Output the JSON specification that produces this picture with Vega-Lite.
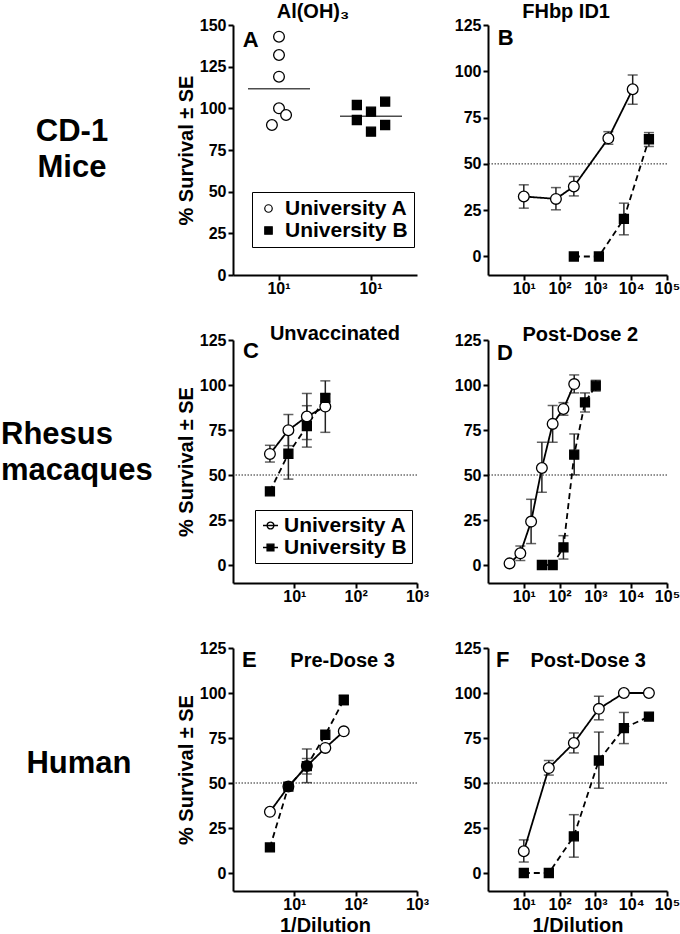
{
  "$schema": "https://vega.github.io/schema/vega-lite/v6.json",
  "padding": {"left": 0, "top": 1, "right": 0, "bottom": 0},
  "background": "white",
  "config": {
    "font": "Liberation Sans",
    "view": {"stroke": null},
    "axis": {"domainColor": "black", "domainWidth": 2, "tickColor": "black", "tickWidth": 2, "tickSize": 5, "labelFont": "Liberation Sans", "labelFontSize": 16, "labelFontWeight": "bold", "labelColor": "black", "titleFont": "Liberation Sans", "titleFontSize": 20, "titleFontWeight": "bold", "titleColor": "black", "grid": false, "labelFlush": false, "labelOverlap": false},
    "axisY": {"labelPadding": 2, "titlePadding": 3},
    "axisX": {"labelPadding": 0, "titlePadding": 3},
    "text": {"font": "Liberation Sans", "color": "black"}
  },
  "datasets": {
    "A": [
      {"u": "University A", "col": 0, "v": 143},
      {"u": "University A", "col": 0, "v": 132},
      {"u": "University A", "col": 0, "v": 119},
      {"u": "University A", "col": 0, "v": 100},
      {"u": "University A", "col": 1, "v": 96},
      {"u": "University A", "col": -1, "v": 90},
      {"u": "University B", "col": -2, "v": 102},
      {"u": "University B", "col": 2, "v": 104},
      {"u": "University B", "col": 0, "v": 98},
      {"u": "University B", "col": -2, "v": 93},
      {"u": "University B", "col": 2, "v": 90},
      {"u": "University B", "col": 0, "v": 86}
    ],
    "Amean": [
      {"u": "University A", "m": 111.8},
      {"u": "University B", "m": 95.2}
    ],
    "B": [
      {"u": "University A", "x": 10, "y": 32.4, "lo": 26.1, "hi": 38.7},
      {"u": "University A", "x": 79, "y": 31.1, "lo": 25.2, "hi": 37.2},
      {"u": "University A", "x": 250, "y": 37.8, "lo": 32.7, "hi": 43.2},
      {"u": "University A", "x": 2300, "y": 63.8, "lo": 60.6, "hi": 67.4},
      {"u": "University A", "x": 11000, "y": 90.3, "lo": 82.2, "hi": 98},
      {"u": "University B", "x": 250, "y": 0},
      {"u": "University B", "x": 1250, "y": 0},
      {"u": "University B", "x": 6250, "y": 20.3, "lo": 11.7, "hi": 28.8},
      {"u": "University B", "x": 31250, "y": 63.3, "lo": 59.4, "hi": 66.9}
    ],
    "C": [
      {"u": "University A", "x": 4, "y": 61.7, "lo": 57.2, "hi": 66.5},
      {"u": "University A", "x": 8, "y": 74.9, "lo": 66.3, "hi": 83.6},
      {"u": "University A", "x": 16, "y": 82.5, "lo": 69.7, "hi": 95.3},
      {"u": "University A", "x": 32, "y": 88, "lo": 73.7, "hi": 102.3},
      {"u": "University B", "x": 4, "y": 40.9},
      {"u": "University B", "x": 8, "y": 61.8, "lo": 47.7, "hi": 75.9},
      {"u": "University B", "x": 16, "y": 77.1, "lo": 65.5, "hi": 88.5},
      {"u": "University B", "x": 32, "y": 92.9, "lo": 90.9, "hi": 94.9}
    ],
    "D": [
      {"u": "University A", "x": 4, "y": 0.9},
      {"u": "University A", "x": 8, "y": 6.5, "lo": 2.5, "hi": 10.5},
      {"u": "University A", "x": 16, "y": 24.1, "lo": 11.9, "hi": 36.5},
      {"u": "University A", "x": 32, "y": 53.9, "lo": 40.4, "hi": 68.2},
      {"u": "University A", "x": 64, "y": 78.4, "lo": 68.2, "hi": 88.6},
      {"u": "University A", "x": 128, "y": 86.7, "lo": 83.2, "hi": 90.2},
      {"u": "University A", "x": 256, "y": 100.5, "lo": 95.6, "hi": 105.6},
      {"u": "University B", "x": 32, "y": 0},
      {"u": "University B", "x": 64, "y": 0},
      {"u": "University B", "x": 128, "y": 9.8, "lo": 3.3, "hi": 16.3},
      {"u": "University B", "x": 256, "y": 61.3, "lo": 50.1, "hi": 72.8},
      {"u": "University B", "x": 512, "y": 90.3, "lo": 85, "hi": 95.6},
      {"u": "University B", "x": 1024, "y": 99.6, "lo": 96.6, "hi": 102.6}
    ],
    "E": [
      {"u": "University A", "x": 4, "y": 34},
      {"u": "University A", "x": 8, "y": 48},
      {"u": "University A", "x": 16, "y": 59.4, "lo": 55, "hi": 63.6},
      {"u": "University A", "x": 32, "y": 69.5},
      {"u": "University A", "x": 64, "y": 78.7},
      {"u": "University B", "x": 4, "y": 14.2},
      {"u": "University B", "x": 8, "y": 48},
      {"u": "University B", "x": 16, "y": 59.4, "lo": 50.2, "hi": 68.9},
      {"u": "University B", "x": 32, "y": 76.8},
      {"u": "University B", "x": 64, "y": 96.1, "lo": 93.5, "hi": 98.8}
    ],
    "F": [
      {"u": "University A", "x": 10, "y": 12.1, "lo": 6.1, "hi": 18.4},
      {"u": "University A", "x": 50, "y": 58.3, "lo": 54.4, "hi": 62.5},
      {"u": "University A", "x": 250, "y": 72.2, "lo": 66.7, "hi": 77.8},
      {"u": "University A", "x": 1250, "y": 91.2, "lo": 85.1, "hi": 98.2},
      {"u": "University A", "x": 6250, "y": 100},
      {"u": "University A", "x": 31250, "y": 100},
      {"u": "University B", "x": 10, "y": 0},
      {"u": "University B", "x": 50, "y": 0},
      {"u": "University B", "x": 250, "y": 20.4, "lo": 8.8, "hi": 32.4},
      {"u": "University B", "x": 1250, "y": 62.5, "lo": 47.1, "hi": 78.3},
      {"u": "University B", "x": 6250, "y": 80.5, "lo": 71.9, "hi": 89.2},
      {"u": "University B", "x": 31250, "y": 86.9}
    ]
  },
  "columns": 3,
  "spacing": {"row": 65, "column": 71},
  "bounds": "flush",
  "align": "each",
  "resolve": {
    "scale": {"shape": "independent", "fill": "independent", "size": "independent", "strokeDash": "independent", "stroke": "independent"},
    "legend": {"shape": "independent", "fill": "independent", "size": "independent", "strokeDash": "independent", "stroke": "independent"}
  },
  "concat": [
    {
      "width": 162, "height": 250,
      "data": {"values": [{"label": "CD-1\nMice"}]},
      "mark": {"type": "text", "fontSize": 31, "fontWeight": "bold", "lineBreak": "\n", "lineHeight": 36, "align": "center", "baseline": "middle", "dx": -9, "dy": -18},
      "encoding": {"text": {"field": "label", "type": "nominal"}}
    },
    {
      "width": 184, "height": 250,
      "resolve": {"scale": {"shape": "independent", "fill": "independent", "stroke": "independent"}, "legend": {"shape": "independent", "fill": "independent", "stroke": "independent"}},
      "layer": [
        {
          "data": {"name": "Amean"},
          "mark": {"type": "tick", "orient": "horizontal", "size": 62, "thickness": 1.5, "color": "black"},
          "encoding": {
            "x": {"field": "u", "type": "nominal", "title": null, "scale": {"type": "band", "paddingInner": 0, "paddingOuter": 0}, "axis": {"labelExpr": "'10¹'", "labelAngle": 0}},
            "y": {"field": "m", "type": "quantitative", "title": "% Survival ± SE", "scale": {"domain": [0, 150], "nice": false, "zero": false}, "axis": {"values": [0, 25, 50, 75, 100, 125, 150]}}
          }
        },
        {
          "data": {"name": "A"},
          "mark": {"type": "point", "filled": true, "stroke": "black", "strokeWidth": 1.3, "opacity": 1},
          "encoding": {
            "x": {"field": "u", "type": "nominal", "title": null},
            "xOffset": {"field": "col", "type": "quantitative", "scale": {"domain": [-6.5, 6.5]}},
            "y": {"field": "v", "type": "quantitative", "title": "% Survival ± SE"},
            "shape": {"field": "u", "type": "nominal", "scale": {"domain": ["University A", "University B"], "range": ["circle", "square"]}, "legend": null},
            "fill": {"field": "u", "type": "nominal", "scale": {"domain": ["University A", "University B"], "range": ["white", "black"]}, "legend": null},
            "size": {"field": "u", "type": "ordinal", "scale": {"domain": ["University A", "University B"], "range": [115, 81]}, "legend": null}
          }
        },
        {
          "data": {"name": "A"},
          "mark": {"type": "point", "filled": true, "opacity": 0},
          "encoding": {
            "x": {"field": "u", "type": "nominal", "title": null},
            "xOffset": {"field": "col", "type": "quantitative"},
            "y": {"field": "v", "type": "quantitative", "title": "% Survival ± SE"},
            "shape": {"field": "u", "type": "nominal", "scale": {"domain": ["University A", "University B"], "range": ["circle", "square"]},
              "legend": {"title": null, "orient": "none", "legendX": 19, "legendY": 167, "strokeColor": "black", "fillColor": "white", "padding": 6, "labelFontSize": 21, "labelFontWeight": "bold", "labelColor": "black", "labelFont": "Liberation Sans", "symbolSize": 56, "symbolStrokeWidth": 1.2, "labelOffset": 6, "rowPadding": 0, "cornerRadius": 0, "symbolOpacity": 1}},
            "fill": {"field": "u", "type": "nominal", "scale": {"domain": ["University A", "University B"], "range": ["white", "black"]},
              "legend": {"title": null, "orient": "none", "legendX": 19, "legendY": 167, "strokeColor": "black", "fillColor": "white", "padding": 6, "labelFontSize": 21, "labelFontWeight": "bold", "labelColor": "black", "labelFont": "Liberation Sans", "symbolSize": 56, "symbolStrokeWidth": 1.2, "labelOffset": 6, "rowPadding": 0, "cornerRadius": 0, "symbolOpacity": 1}},
            "stroke": {"field": "u", "type": "nominal", "scale": {"domain": ["University A", "University B"], "range": ["black", "black"]},
              "legend": {"title": null, "orient": "none", "legendX": 19, "legendY": 167, "strokeColor": "black", "fillColor": "white", "padding": 6, "labelFontSize": 21, "labelFontWeight": "bold", "labelColor": "black", "labelFont": "Liberation Sans", "symbolSize": 56, "symbolStrokeWidth": 1.2, "labelOffset": 6, "rowPadding": 0, "cornerRadius": 0, "symbolOpacity": 1}}
          }
        },
        {
          "data": {"values": [{"t": "A"}]},
          "mark": {"type": "text", "fontSize": 22, "fontWeight": "bold", "align": "center", "baseline": "alphabetic"},
          "encoding": {
            "x": {"datum": "University A", "type": "nominal"},
            "xOffset": {"datum": -4, "type": "quantitative"},
            "y": {"datum": 137, "type": "quantitative"},
            "text": {"field": "t", "type": "nominal"}
          }
        },
        {
          "data": {"values": [{"t": "Al(OH)₃"}]},
          "mark": {"type": "text", "fontSize": 20, "fontWeight": "bold", "align": "center", "baseline": "alphabetic"},
          "encoding": {
            "x": {"datum": "University A", "type": "nominal"},
            "xOffset": {"datum": 4.8, "type": "quantitative"},
            "y": {"datum": 154.2, "type": "quantitative"},
            "text": {"field": "t", "type": "nominal"}
          }
        }
      ]
    },
    {
      "width": 179, "height": 250,
      "layer": [
        {"data": {"values": [{"ref": 50}]},
         "mark": {"type": "rule", "strokeDash": [1.5, 1.5], "color": "#222", "strokeWidth": 1},
         "encoding": {"y": {"field": "ref", "type": "quantitative", "title": null}}},
        {"data": {"name": "B"},
         "mark": {"type": "rule", "color": "#222", "strokeWidth": 1.5},
         "encoding": {"x": {"field": "x", "type": "quantitative", "title": null, "scale": {"type": "log"}}, "y": {"field": "lo", "type": "quantitative", "title": null}, "y2": {"field": "hi"}}},
        {"data": {"name": "B"},
         "mark": {"type": "tick", "orient": "horizontal", "size": 10, "thickness": 1.5, "color": "#222"},
         "encoding": {"x": {"field": "x", "type": "quantitative", "title": null, "scale": {"type": "log"}}, "y": {"field": "lo", "type": "quantitative", "title": null}}},
        {"data": {"name": "B"},
         "mark": {"type": "tick", "orient": "horizontal", "size": 10, "thickness": 1.5, "color": "#222"},
         "encoding": {"x": {"field": "x", "type": "quantitative", "title": null, "scale": {"type": "log"}}, "y": {"field": "hi", "type": "quantitative", "title": null}}},
        {"data": {"name": "B"},
         "mark": {"type": "line", "color": "black", "strokeWidth": 1.8},
         "encoding": {
           "x": {"field": "x", "type": "quantitative", "title": null, "scale": {"type": "log", "domain": [1, 100000], "nice": false}, "axis": {"values": [10, 100, 1000, 10000, 100000], "labelExpr": "'10' + ['⁰','¹','²','³','⁴','⁵'][round(log(datum.value)/LN10)]"}},
           "y": {"field": "y", "type": "quantitative", "title": null, "scale": {"domain": [-10, 125], "nice": false, "zero": false}, "axis": {"values": [0, 25, 50, 75, 100, 125]}},
           "strokeDash": {"field": "u", "type": "nominal", "scale": {"domain": ["University A", "University B"], "range": [[1, 0], [6, 4]]}, "legend": null}
         }},
        {"data": {"name": "B"},
         "mark": {"type": "point", "filled": true, "stroke": "black", "strokeWidth": 1.3, "opacity": 1},
         "encoding": {
           "x": {"field": "x", "type": "quantitative", "title": null, "scale": {"type": "log"}},
           "y": {"field": "y", "type": "quantitative", "title": null},
           "shape": {"field": "u", "type": "nominal", "scale": {"domain": ["University A", "University B"], "range": ["circle", "square"]}, "legend": null},
           "fill": {"field": "u", "type": "nominal", "scale": {"domain": ["University A", "University B"], "range": ["white", "black"]}, "legend": null},
           "size": {"field": "u", "type": "ordinal", "scale": {"domain": ["University A", "University B"], "range": [115, 81]}, "legend": null}
         }},
        {"data": {"values": [{"t": "B"}]},
         "mark": {"type": "text", "fontSize": 22, "fontWeight": "bold", "align": "center", "baseline": "alphabetic"},
         "encoding": {"x": {"datum": 3.13, "type": "quantitative"}, "y": {"datum": 114.3, "type": "quantitative"}, "text": {"field": "t", "type": "nominal"}}},
        {"data": {"values": [{"t": "FHbp ID1"}]},
         "mark": {"type": "text", "fontSize": 20, "fontWeight": "bold", "align": "center", "baseline": "alphabetic"},
         "encoding": {"x": {"datum": 152, "type": "quantitative"}, "y": {"datum": 128.7, "type": "quantitative"}, "text": {"field": "t", "type": "nominal"}}}
      ]
    },
    {
      "width": 162, "height": 243,
      "data": {"values": [{"label": "Rhesus\nmacaques"}]},
      "mark": {"type": "text", "fontSize": 31, "fontWeight": "bold", "lineBreak": "\n", "lineHeight": 36, "align": "left", "baseline": "middle", "dx": -80, "dy": -27},
      "encoding": {"text": {"field": "label", "type": "nominal"}}
    },
    {
      "width": 184, "height": 243,
      "resolve": {"scale": {"shape": "independent", "fill": "independent", "stroke": "independent"}, "legend": {"shape": "independent", "fill": "independent", "stroke": "independent"}},
      "layer": [
        {"data": {"values": [{"ref": 50}]},
         "mark": {"type": "rule", "strokeDash": [1.5, 1.5], "color": "#222", "strokeWidth": 1},
         "encoding": {"y": {"field": "ref", "type": "quantitative", "title": "% Survival ± SE"}}},
        {"data": {"name": "C"},
         "mark": {"type": "rule", "color": "#222", "strokeWidth": 1.5},
         "encoding": {"x": {"field": "x", "type": "quantitative", "title": null, "scale": {"type": "log"}}, "y": {"field": "lo", "type": "quantitative", "title": "% Survival ± SE"}, "y2": {"field": "hi"}}},
        {"data": {"name": "C"},
         "mark": {"type": "tick", "orient": "horizontal", "size": 10, "thickness": 1.5, "color": "#222"},
         "encoding": {"x": {"field": "x", "type": "quantitative", "title": null, "scale": {"type": "log"}}, "y": {"field": "lo", "type": "quantitative", "title": "% Survival ± SE"}}},
        {"data": {"name": "C"},
         "mark": {"type": "tick", "orient": "horizontal", "size": 10, "thickness": 1.5, "color": "#222"},
         "encoding": {"x": {"field": "x", "type": "quantitative", "title": null, "scale": {"type": "log"}}, "y": {"field": "hi", "type": "quantitative", "title": "% Survival ± SE"}}},
        {"data": {"name": "C"},
         "mark": {"type": "line", "color": "black", "strokeWidth": 1.8},
         "encoding": {
           "x": {"field": "x", "type": "quantitative", "title": null, "scale": {"type": "log", "domain": [1, 1000], "nice": false}, "axis": {"values": [10, 100, 1000], "labelExpr": "'10' + ['⁰','¹','²','³','⁴','⁵'][round(log(datum.value)/LN10)]"}},
           "y": {"field": "y", "type": "quantitative", "title": "% Survival ± SE", "scale": {"domain": [-10, 125], "nice": false, "zero": false}, "axis": {"values": [0, 25, 50, 75, 100, 125]}},
           "strokeDash": {"field": "u", "type": "nominal", "scale": {"domain": ["University A", "University B"], "range": [[1, 0], [6, 4]]}, "legend": null}
         }},
        {"data": {"name": "C"},
         "mark": {"type": "point", "filled": true, "stroke": "black", "strokeWidth": 1.3, "opacity": 1},
         "encoding": {
           "x": {"field": "x", "type": "quantitative", "title": null, "scale": {"type": "log"}},
           "y": {"field": "y", "type": "quantitative", "title": "% Survival ± SE"},
           "shape": {"field": "u", "type": "nominal", "scale": {"domain": ["University A", "University B"], "range": ["circle", "square"]}, "legend": null},
           "fill": {"field": "u", "type": "nominal", "scale": {"domain": ["University A", "University B"], "range": ["white", "black"]}, "legend": null},
           "size": {"field": "u", "type": "ordinal", "scale": {"domain": ["University A", "University B"], "range": [115, 81]}, "legend": null}
         }},
        {"data": {"name": "C"},
         "mark": {"type": "point", "filled": true, "opacity": 0},
         "encoding": {
           "x": {"field": "x", "type": "quantitative", "title": null, "scale": {"type": "log"}},
           "y": {"field": "y", "type": "quantitative", "title": "% Survival ± SE"},
           "shape": {"field": "u", "type": "nominal", "scale": {"domain": ["University A", "University B"], "range": ["M-1,0L1,0M0.45,0A0.45,0.45,0,1,1,-0.45,0A0.45,0.45,0,1,1,0.45,0Z", "M-1,0L1,0M-0.45,-0.45L0.45,-0.45L0.45,0.45L-0.45,0.45Z"]},
             "legend": {"title": null, "orient": "none", "legendX": 22, "legendY": 170, "strokeColor": "black", "fillColor": "white", "padding": 5, "labelFontSize": 21, "labelFontWeight": "bold", "labelColor": "black", "labelFont": "Liberation Sans", "symbolSize": 225, "symbolStrokeWidth": 1.4, "labelOffset": 3, "rowPadding": 0, "cornerRadius": 0, "symbolOpacity": 1}},
           "fill": {"field": "u", "type": "nominal", "scale": {"domain": ["University A", "University B"], "range": ["white", "black"]},
             "legend": {"title": null, "orient": "none", "legendX": 22, "legendY": 170, "strokeColor": "black", "fillColor": "white", "padding": 5, "labelFontSize": 21, "labelFontWeight": "bold", "labelColor": "black", "labelFont": "Liberation Sans", "symbolSize": 225, "symbolStrokeWidth": 1.4, "labelOffset": 3, "rowPadding": 0, "cornerRadius": 0, "symbolOpacity": 1}},
           "stroke": {"field": "u", "type": "nominal", "scale": {"domain": ["University A", "University B"], "range": ["black", "black"]},
             "legend": {"title": null, "orient": "none", "legendX": 22, "legendY": 170, "strokeColor": "black", "fillColor": "white", "padding": 5, "labelFontSize": 21, "labelFontWeight": "bold", "labelColor": "black", "labelFont": "Liberation Sans", "symbolSize": 225, "symbolStrokeWidth": 1.4, "labelOffset": 3, "rowPadding": 0, "cornerRadius": 0, "symbolOpacity": 1}}
         }},
        {"data": {"values": [{"t": "C"}]},
         "mark": {"type": "text", "fontSize": 22, "fontWeight": "bold", "align": "center", "baseline": "alphabetic"},
         "encoding": {"x": {"datum": 1.97, "type": "quantitative"}, "y": {"datum": 115, "type": "quantitative"}, "text": {"field": "t", "type": "nominal"}}},
        {"data": {"values": [{"t": "Unvaccinated"}]},
         "mark": {"type": "text", "fontSize": 20, "fontWeight": "bold", "align": "left", "baseline": "alphabetic"},
         "encoding": {"x": {"datum": 4.0, "type": "quantitative"}, "y": {"datum": 125, "type": "quantitative"}, "text": {"field": "t", "type": "nominal"}}}
      ]
    },
    {
      "width": 179, "height": 243,
      "layer": [
        {"data": {"values": [{"ref": 50}]},
         "mark": {"type": "rule", "strokeDash": [1.5, 1.5], "color": "#222", "strokeWidth": 1},
         "encoding": {"y": {"field": "ref", "type": "quantitative", "title": null}}},
        {"data": {"name": "D"},
         "mark": {"type": "rule", "color": "#222", "strokeWidth": 1.5},
         "encoding": {"x": {"field": "x", "type": "quantitative", "title": null, "scale": {"type": "log"}}, "y": {"field": "lo", "type": "quantitative", "title": null}, "y2": {"field": "hi"}}},
        {"data": {"name": "D"},
         "mark": {"type": "tick", "orient": "horizontal", "size": 10, "thickness": 1.5, "color": "#222"},
         "encoding": {"x": {"field": "x", "type": "quantitative", "title": null, "scale": {"type": "log"}}, "y": {"field": "lo", "type": "quantitative", "title": null}}},
        {"data": {"name": "D"},
         "mark": {"type": "tick", "orient": "horizontal", "size": 10, "thickness": 1.5, "color": "#222"},
         "encoding": {"x": {"field": "x", "type": "quantitative", "title": null, "scale": {"type": "log"}}, "y": {"field": "hi", "type": "quantitative", "title": null}}},
        {"data": {"name": "D"},
         "mark": {"type": "line", "color": "black", "strokeWidth": 1.8},
         "encoding": {
           "x": {"field": "x", "type": "quantitative", "title": null, "scale": {"type": "log", "domain": [1, 100000], "nice": false}, "axis": {"values": [10, 100, 1000, 10000, 100000], "labelExpr": "'10' + ['⁰','¹','²','³','⁴','⁵'][round(log(datum.value)/LN10)]"}},
           "y": {"field": "y", "type": "quantitative", "title": null, "scale": {"domain": [-10, 125], "nice": false, "zero": false}, "axis": {"values": [0, 25, 50, 75, 100, 125]}},
           "strokeDash": {"field": "u", "type": "nominal", "scale": {"domain": ["University A", "University B"], "range": [[1, 0], [6, 4]]}, "legend": null}
         }},
        {"data": {"name": "D"},
         "mark": {"type": "point", "filled": true, "stroke": "black", "strokeWidth": 1.3, "opacity": 1},
         "encoding": {
           "x": {"field": "x", "type": "quantitative", "title": null, "scale": {"type": "log"}},
           "y": {"field": "y", "type": "quantitative", "title": null},
           "shape": {"field": "u", "type": "nominal", "scale": {"domain": ["University A", "University B"], "range": ["circle", "square"]}, "legend": null},
           "fill": {"field": "u", "type": "nominal", "scale": {"domain": ["University A", "University B"], "range": ["white", "black"]}, "legend": null},
           "size": {"field": "u", "type": "ordinal", "scale": {"domain": ["University A", "University B"], "range": [115, 81]}, "legend": null}
         }},
        {"data": {"values": [{"t": "D"}]},
         "mark": {"type": "text", "fontSize": 22, "fontWeight": "bold", "align": "center", "baseline": "alphabetic"},
         "encoding": {"x": {"datum": 2.95, "type": "quantitative"}, "y": {"datum": 114, "type": "quantitative"}, "text": {"field": "t", "type": "nominal"}}},
        {"data": {"values": [{"t": "Post-Dose 2"}]},
         "mark": {"type": "text", "fontSize": 20, "fontWeight": "bold", "align": "left", "baseline": "alphabetic"},
         "encoding": {"x": {"datum": 9.2, "type": "quantitative"}, "y": {"datum": 124.5, "type": "quantitative"}, "text": {"field": "t", "type": "nominal"}}}
      ]
    },
    {
      "width": 162, "height": 243,
      "data": {"values": [{"label": "Human"}]},
      "mark": {"type": "text", "fontSize": 31, "fontWeight": "bold", "align": "center", "baseline": "middle", "dx": -2, "dy": -6},
      "encoding": {"text": {"field": "label", "type": "nominal"}}
    },
    {
      "width": 184, "height": 243,
      "layer": [
        {"data": {"values": [{"ref": 50}]},
         "mark": {"type": "rule", "strokeDash": [1.5, 1.5], "color": "#222", "strokeWidth": 1},
         "encoding": {"y": {"field": "ref", "type": "quantitative", "title": "% Survival ± SE"}}},
        {"data": {"name": "E"},
         "mark": {"type": "rule", "color": "#222", "strokeWidth": 1.5},
         "encoding": {"x": {"field": "x", "type": "quantitative", "title": "1/Dilution", "scale": {"type": "log"}}, "y": {"field": "lo", "type": "quantitative", "title": "% Survival ± SE"}, "y2": {"field": "hi"}}},
        {"data": {"name": "E"},
         "mark": {"type": "tick", "orient": "horizontal", "size": 10, "thickness": 1.5, "color": "#222"},
         "encoding": {"x": {"field": "x", "type": "quantitative", "title": "1/Dilution", "scale": {"type": "log"}}, "y": {"field": "lo", "type": "quantitative", "title": "% Survival ± SE"}}},
        {"data": {"name": "E"},
         "mark": {"type": "tick", "orient": "horizontal", "size": 10, "thickness": 1.5, "color": "#222"},
         "encoding": {"x": {"field": "x", "type": "quantitative", "title": "1/Dilution", "scale": {"type": "log"}}, "y": {"field": "hi", "type": "quantitative", "title": "% Survival ± SE"}}},
        {"data": {"name": "E"},
         "mark": {"type": "line", "color": "black", "strokeWidth": 1.8},
         "encoding": {
           "x": {"field": "x", "type": "quantitative", "title": "1/Dilution", "scale": {"type": "log", "domain": [1, 1000], "nice": false}, "axis": {"values": [10, 100, 1000], "labelExpr": "'10' + ['⁰','¹','²','³','⁴','⁵'][round(log(datum.value)/LN10)]"}},
           "y": {"field": "y", "type": "quantitative", "title": "% Survival ± SE", "scale": {"domain": [-10, 125], "nice": false, "zero": false}, "axis": {"values": [0, 25, 50, 75, 100, 125]}},
           "strokeDash": {"field": "u", "type": "nominal", "scale": {"domain": ["University A", "University B"], "range": [[1, 0], [6, 4]]}, "legend": null}
         }},
        {"data": {"name": "E"},
         "mark": {"type": "point", "filled": true, "stroke": "black", "strokeWidth": 1.3, "opacity": 1},
         "encoding": {
           "x": {"field": "x", "type": "quantitative", "title": "1/Dilution", "scale": {"type": "log"}},
           "y": {"field": "y", "type": "quantitative", "title": "% Survival ± SE"},
           "shape": {"field": "u", "type": "nominal", "scale": {"domain": ["University A", "University B"], "range": ["circle", "square"]}, "legend": null},
           "fill": {"field": "u", "type": "nominal", "scale": {"domain": ["University A", "University B"], "range": ["white", "black"]}, "legend": null},
           "size": {"field": "u", "type": "ordinal", "scale": {"domain": ["University A", "University B"], "range": [115, 81]}, "legend": null}
         }},
        {"data": {"values": [{"t": "E"}]},
         "mark": {"type": "text", "fontSize": 22, "fontWeight": "bold", "align": "center", "baseline": "alphabetic"},
         "encoding": {"x": {"datum": 1.85, "type": "quantitative"}, "y": {"datum": 114.5, "type": "quantitative"}, "text": {"field": "t", "type": "nominal"}}},
        {"data": {"values": [{"t": "Pre-Dose 3"}]},
         "mark": {"type": "text", "fontSize": 20, "fontWeight": "bold", "align": "left", "baseline": "alphabetic"},
         "encoding": {"x": {"datum": 8.6, "type": "quantitative"}, "y": {"datum": 114.4, "type": "quantitative"}, "text": {"field": "t", "type": "nominal"}}}
      ]
    },
    {
      "width": 179, "height": 243,
      "layer": [
        {"data": {"values": [{"ref": 50}]},
         "mark": {"type": "rule", "strokeDash": [1.5, 1.5], "color": "#222", "strokeWidth": 1},
         "encoding": {"y": {"field": "ref", "type": "quantitative", "title": null}}},
        {"data": {"name": "F"},
         "mark": {"type": "rule", "color": "#222", "strokeWidth": 1.5},
         "encoding": {"x": {"field": "x", "type": "quantitative", "title": "1/Dilution", "scale": {"type": "log"}}, "y": {"field": "lo", "type": "quantitative", "title": null}, "y2": {"field": "hi"}}},
        {"data": {"name": "F"},
         "mark": {"type": "tick", "orient": "horizontal", "size": 10, "thickness": 1.5, "color": "#222"},
         "encoding": {"x": {"field": "x", "type": "quantitative", "title": "1/Dilution", "scale": {"type": "log"}}, "y": {"field": "lo", "type": "quantitative", "title": null}}},
        {"data": {"name": "F"},
         "mark": {"type": "tick", "orient": "horizontal", "size": 10, "thickness": 1.5, "color": "#222"},
         "encoding": {"x": {"field": "x", "type": "quantitative", "title": "1/Dilution", "scale": {"type": "log"}}, "y": {"field": "hi", "type": "quantitative", "title": null}}},
        {"data": {"name": "F"},
         "mark": {"type": "line", "color": "black", "strokeWidth": 1.8},
         "encoding": {
           "x": {"field": "x", "type": "quantitative", "title": "1/Dilution", "scale": {"type": "log", "domain": [1, 100000], "nice": false}, "axis": {"values": [10, 100, 1000, 10000, 100000], "labelExpr": "'10' + ['⁰','¹','²','³','⁴','⁵'][round(log(datum.value)/LN10)]"}},
           "y": {"field": "y", "type": "quantitative", "title": null, "scale": {"domain": [-10, 125], "nice": false, "zero": false}, "axis": {"values": [0, 25, 50, 75, 100, 125]}},
           "strokeDash": {"field": "u", "type": "nominal", "scale": {"domain": ["University A", "University B"], "range": [[1, 0], [6, 4]]}, "legend": null}
         }},
        {"data": {"name": "F"},
         "mark": {"type": "point", "filled": true, "stroke": "black", "strokeWidth": 1.3, "opacity": 1},
         "encoding": {
           "x": {"field": "x", "type": "quantitative", "title": "1/Dilution", "scale": {"type": "log"}},
           "y": {"field": "y", "type": "quantitative", "title": null},
           "shape": {"field": "u", "type": "nominal", "scale": {"domain": ["University A", "University B"], "range": ["circle", "square"]}, "legend": null},
           "fill": {"field": "u", "type": "nominal", "scale": {"domain": ["University A", "University B"], "range": ["white", "black"]}, "legend": null},
           "size": {"field": "u", "type": "ordinal", "scale": {"domain": ["University A", "University B"], "range": [115, 81]}, "legend": null}
         }},
        {"data": {"values": [{"t": "F"}]},
         "mark": {"type": "text", "fontSize": 22, "fontWeight": "bold", "align": "center", "baseline": "alphabetic"},
         "encoding": {"x": {"datum": 2.59, "type": "quantitative"}, "y": {"datum": 114.5, "type": "quantitative"}, "text": {"field": "t", "type": "nominal"}}},
        {"data": {"values": [{"t": "Post-Dose 3"}]},
         "mark": {"type": "text", "fontSize": 20, "fontWeight": "bold", "align": "left", "baseline": "alphabetic"},
         "encoding": {"x": {"datum": 15.3, "type": "quantitative"}, "y": {"datum": 114.4, "type": "quantitative"}, "text": {"field": "t", "type": "nominal"}}}
      ]
    }
  ]
}
